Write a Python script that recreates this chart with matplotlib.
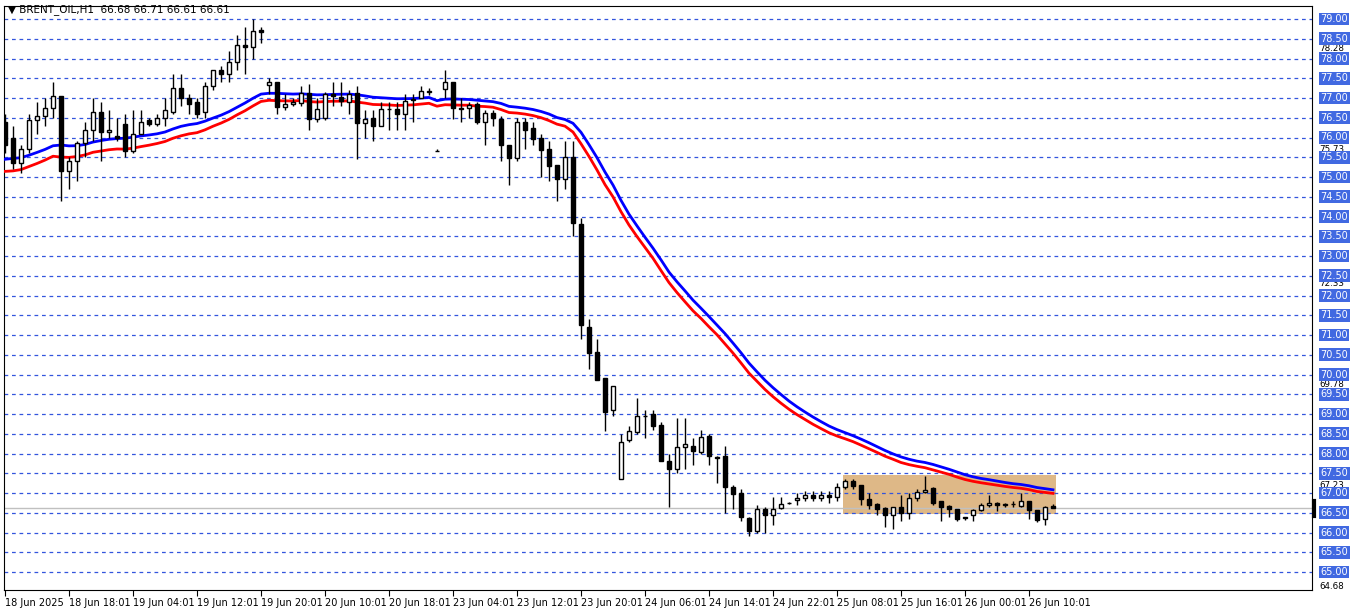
import numpy as np
import pandas as pd
import matplotlib
matplotlib.use('Agg')
import matplotlib.pyplot as plt
from matplotlib.patches import Rectangle

# OHLC de las velas H1
opens = [76.4, 76.0, 75.35, 75.7, 76.45, 76.55, 76.75, 77.05, 75.15, 75.4, 75.85, 76.2, 76.65, 76.15, 76.05, 76.35,
         75.65, 76.1, 76.45, 76.35, 76.5, 76.65, 77.25, 77.0, 76.9, 76.65, 77.3, 77.7, 77.6, 77.9, 78.35, 78.3,
         78.72, 77.33, 77.4, 76.78, 76.84, 76.88, 77.13, 76.47, 76.5, 77.1, 77.03, 76.9, 77.13, 76.37, 76.5, 76.3,
         76.72, 76.73, 76.6, 76.95, 77.0, 77.16, 75.66, 77.22, 77.4, 76.74, 76.74, 76.84, 76.4, 76.62, 76.48, 75.8,
         75.48, 76.38, 76.25, 75.98, 75.7, 75.3, 74.94, 75.5, 73.8, 71.2, 70.57, 69.9, 69.1, 67.35, 68.34, 68.54,
         68.96, 69.0, 68.72, 67.8, 67.6, 68.16, 68.2, 68.03, 68.45, 67.92, 67.93, 67.15, 67.0, 66.36, 66.05, 66.59,
         66.44, 66.63, 66.74, 66.82, 66.87, 66.95, 66.88, 66.95, 66.9, 67.15, 67.3, 67.2, 66.84, 66.71, 66.63, 66.44,
         66.65, 66.5, 66.88, 67.03, 67.12, 66.8, 66.67, 66.6, 66.37, 66.45, 66.58, 66.7, 66.75, 66.7, 66.72, 66.66,
         66.8, 66.57, 66.33, 66.68]
highs = [76.6, 76.3, 75.8, 76.6, 76.9, 77.0, 77.4, 77.05, 75.5, 75.9, 76.4, 77.0, 76.9, 76.7, 76.5, 76.6,
         76.7, 76.7, 76.5, 76.6, 77.0, 77.6, 77.6, 77.1, 77.0, 77.4, 77.7, 77.8, 78.2, 78.6, 78.8, 79.0,
         78.8, 77.5, 77.4, 77.1, 77.0, 77.3, 77.35, 77.0, 77.15, 77.4, 77.4, 77.2, 77.3, 76.7, 76.7, 76.9,
         76.9, 76.9, 77.1, 77.1, 77.3, 77.25, 75.7, 77.7, 77.4, 77.0, 76.9, 76.9, 76.7, 76.7, 76.55, 75.8,
         76.5, 76.5, 76.4, 76.1, 75.9, 75.3, 75.9, 75.9, 73.95, 71.4, 70.9, 69.9, 69.7, 68.5, 68.7, 69.4,
         69.1, 69.1, 68.8, 68.0, 68.9, 68.9, 68.4, 68.6, 68.5, 67.93, 68.2, 67.2, 67.1, 66.4, 66.7, 66.65,
         66.9, 66.9, 66.78, 67.0, 67.05, 67.05, 67.05, 67.05, 67.25, 67.35, 67.35, 67.2, 67.0, 66.75, 66.65, 66.65,
         66.95, 67.0, 67.1, 67.42, 67.15, 66.8, 66.7, 66.6, 66.4, 66.6, 66.75, 66.95, 66.78, 66.75, 66.8, 67.0,
         66.8, 66.57, 66.66, 66.71]
lows = [75.6, 75.2, 75.1, 75.6, 76.1, 76.3, 76.5, 74.4, 74.7, 74.9, 75.5, 75.9, 75.4, 76.0, 75.9, 75.5,
        75.6, 76.1, 76.3, 76.3, 76.3, 76.6, 76.8, 76.6, 76.5, 76.5, 77.2, 77.4, 77.4, 77.7, 77.6, 78.0,
        78.4, 77.1, 76.6, 76.7, 76.8, 76.8, 76.2, 76.4, 76.45, 76.8, 76.8, 76.6, 75.46, 76.0, 75.9, 76.3,
        76.2, 76.2, 76.2, 76.4, 77.0, 77.08, 75.65, 77.0, 76.46, 76.4, 76.5, 76.35, 75.8, 76.3, 75.4, 74.8,
        75.4, 75.7, 75.8, 75.0, 74.9, 74.4, 74.7, 73.5, 70.9, 70.15, 69.85, 68.58, 68.95, 67.35, 68.3, 68.5,
        68.4, 68.6, 67.8, 66.65, 67.5, 67.6, 67.7, 68.0, 67.7, 67.25, 66.5, 66.6, 66.3, 65.9, 66.0, 66.0,
        66.2, 66.6, 66.72, 66.7, 66.8, 66.8, 66.8, 66.75, 66.8, 67.1, 67.1, 66.7, 66.6, 66.45, 66.15, 66.1,
        66.3, 66.35, 66.8, 67.0, 66.7, 66.29, 66.4, 66.3, 66.32, 66.3, 66.55, 66.65, 66.55, 66.65, 66.65, 66.65,
        66.35, 66.26, 66.18, 66.61]
closes = [75.8, 75.35, 75.7, 76.45, 76.55, 76.75, 77.05, 75.15, 75.4, 75.85, 76.2, 76.65, 76.15, 76.2, 76.0, 75.65,
          76.1, 76.4, 76.35, 76.5, 76.7, 77.25, 77.0, 76.85, 76.6, 77.3, 77.7, 77.6, 77.9, 78.35, 78.3, 78.7,
          78.66, 77.4, 76.78, 76.84, 76.9, 77.13, 76.47, 76.72, 77.1, 77.05, 76.93, 77.1, 76.37, 76.48, 76.3, 76.73,
          76.73, 76.6, 76.93, 76.97, 77.17, 77.16, 75.65, 77.4, 76.74, 76.73, 76.82, 76.4, 76.63, 76.5, 75.8, 75.47,
          76.4, 76.2, 75.97, 75.68, 75.28, 74.94, 75.5, 73.83, 71.25, 70.55, 69.86, 69.06, 69.7, 68.3, 68.56, 68.95,
          68.94, 68.7, 67.82, 67.6, 68.16, 68.23, 68.07, 68.42, 67.93, 67.88, 67.16, 66.97, 66.4, 66.05, 66.6, 66.44,
          66.6, 66.72, 66.75, 66.87, 66.94, 66.87, 66.95, 66.9, 67.15, 67.3, 67.17, 66.84, 66.7, 66.6, 66.44, 66.65,
          66.5, 66.88, 67.03, 67.08, 66.74, 66.65, 66.6, 66.34, 66.38, 66.58, 66.7, 66.75, 66.7, 66.71, 66.72, 66.8,
          66.56, 66.32, 66.64, 66.61]

# valores previos de las medias (antes del primer bar visible)
ma_seed_blue = 75.4
ma_seed_red = 75.1
MA_SPAN = 32

tick_labels = ['18 Jun 2025', '18 Jun 18:01', '19 Jun 04:01', '19 Jun 12:01', '19 Jun 20:01', '20 Jun 10:01',
               '20 Jun 18:01', '23 Jun 04:01', '23 Jun 12:01', '23 Jun 20:01', '24 Jun 06:01', '24 Jun 14:01',
               '24 Jun 22:01', '25 Jun 08:01', '25 Jun 16:01', '26 Jun 00:01', '26 Jun 10:01']
scale_marks = [64.68, 67.23, 69.78, 72.33, 75.73, 78.28]
box_start, box_end = 105, 131.7
box_low, box_high = 66.47, 67.46
last_price = 66.61

W, H = 1362, 611
fig = plt.figure(figsize=(W / 100, H / 100), dpi=100)
ax = fig.add_axes([4 / W, 21 / H, 1308 / W, 584 / H])

n = len(closes)
xs = np.arange(n)
o = np.array(opens); c = np.array(closes); h = np.array(highs); l = np.array(lows)

# medias moviles: azul sobre (max+cierre)/2, roja sobre cierre
blue_src = (h + c) / 2
ma_blue = pd.Series([ma_seed_blue] + list(blue_src)).ewm(span=MA_SPAN, adjust=False).mean().values[1:]
ma_red = pd.Series([ma_seed_red] + closes).ewm(span=MA_SPAN, adjust=False).mean().values[1:]

ax.add_patch(Rectangle((box_start - 0.3, box_low), box_end - box_start, box_high - box_low,
                       facecolor='#deb887', edgecolor='none', zorder=1))

# grilla punteada cada 0.50
levels = np.arange(65.0, 79.01, 0.5)
for lv in levels:
    ax.axhline(lv, color='#3355dd', lw=0.9, dashes=(3, 3), zorder=2)
ax.axhline(last_price, color='#c0c0c0', lw=1, zorder=2)

ax.plot(xs, ma_blue, color='#0000ff', lw=2, zorder=3)
ax.plot(xs, ma_red, color='#ff0000', lw=2, zorder=3)

# velas
ax.vlines(xs, l, h, color='black', lw=1, zorder=4)
up = c >= o
body = np.maximum(np.abs(c - o), 0.012)
bottom = np.minimum(o, c)
ax.bar(xs[up], body[up], bottom=bottom[up], width=0.6, facecolor='white', edgecolor='black', lw=1, zorder=5)
ax.bar(xs[~up], body[~up], bottom=bottom[~up], width=0.6, facecolor='black', edgecolor='black', lw=1, zorder=5)

ax.set_xlim(-0.125, -0.125 + 1308 / 8)
ax.set_ylim(79 - (590 - 19) / 39.5, 79 + 13 / 39.5)

ax.set_xticks(np.arange(0, 8 * len(tick_labels), 8))
ax.set_xticklabels(tick_labels, ha='left', fontsize=7)
ax.tick_params(axis='x', length=4, pad=2)
ax.set_yticks([])

# escala de precios a la derecha
for v in scale_marks:
    ax.annotate(f'{v:.2f}', (1, v), xycoords=('axes fraction', 'data'), xytext=(5, -1),
                textcoords='offset points', fontsize=6.3, va='center', ha='left', color='black')
for lv in levels:
    ax.annotate(f'{lv:.2f}', (1, lv), xycoords=('axes fraction', 'data'), xytext=(6, 0),
                textcoords='offset points', fontsize=7, va='center', ha='left', color='white',
                bbox=dict(boxstyle='square,pad=0.15', fc='#4169e1', ec='none'), zorder=6)
ax.plot([1.0012, 1.0012], [last_price - 0.18, last_price + 0.18], transform=ax.get_yaxis_transform(),
        color='black', lw=3, clip_on=False, zorder=7)

fig.text(8 / W, 1 - 10 / H, '\u25bc BRENT_OIL,H1  66.68 66.71 66.61 66.61', fontsize=7.5, va='center', ha='left')

fig.savefig('out.png', dpi=100)
